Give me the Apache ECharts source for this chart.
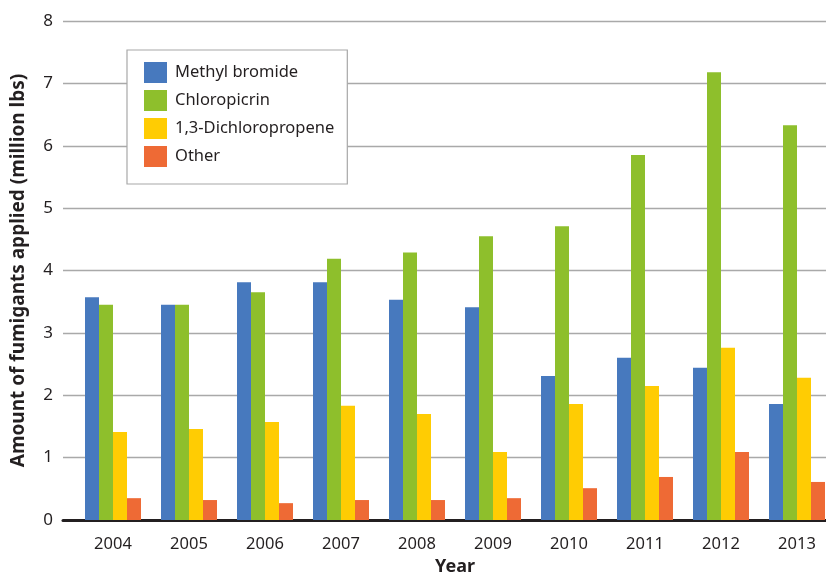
<!DOCTYPE html>
<html>
<head>
<meta charset="utf-8">
<script src="https://cdn.jsdelivr.net/npm/echarts@6/dist/echarts.min.js"></script>
<style>
  html, body { margin: 0; padding: 0; background: #fff; }
  #chart { width: 826px; height: 577px; }
</style>
</head>
<body>
<div id="chart"></div>
<script>
const years = ['2004', '2005', '2006', '2007', '2008', '2009', '2010', '2011', '2012', '2013'];
const methylBromide = [3.57, 3.45, 3.81, 3.81, 3.53, 3.41, 2.31, 2.60, 2.44, 1.86];
const chloropicrin = [3.45, 3.45, 3.65, 4.19, 4.29, 4.55, 4.71, 5.85, 7.18, 6.33];
const dichloropropene = [1.41, 1.46, 1.57, 1.83, 1.70, 1.09, 1.86, 2.15, 2.76, 2.28];
const other = [0.35, 0.32, 0.27, 0.32, 0.32, 0.35, 0.51, 0.69, 1.09, 0.61];

const font = '"Noto Sans", "Open Sans", sans-serif';
const chart = echarts.init(document.getElementById('chart'));

function bar(name, data, color) {
  return {
    name, type: 'bar', data, xAxisIndex: 1, yAxisIndex: 1,
    barWidth: 14, barGap: '0%',
    itemStyle: { color },
    emphasis: { disabled: true }
  };
}

chart.setOption({
  animation: false,
  textStyle: { fontFamily: font },
  grid: [
    // background grid: gridlines + baseline, spans the full width
    { left: 63, right: 0, top: 21, bottom: 57, outerBoundsMode: 'none' },
    // bars
    { left: 75, width: 760, top: 21, bottom: 57, outerBoundsMode: 'none' }
  ],
  xAxis: [
    {
      gridIndex: 0, type: 'value', min: 0, max: 1,
      axisLine: { show: true, lineStyle: { color: '#231f20', width: 3 } },
      axisTick: { show: false }, axisLabel: { show: false }, splitLine: { show: false }
    },
    {
      gridIndex: 1, type: 'category', data: years,
      axisLine: { show: false }, axisTick: { show: false },
      axisLabel: { color: '#231f20', fontSize: 16.5, margin: 16, fontFamily: font },
      name: 'Year', nameLocation: 'middle', nameGap: 36,
      nameTextStyle: { color: '#231f20', fontSize: 18, fontWeight: 'bold', fontFamily: font }
    }
  ],
  yAxis: [
    {
      gridIndex: 0, type: 'value', min: 0, max: 8, interval: 1,
      axisLine: { show: false }, axisTick: { show: false },
      axisLabel: { color: '#231f20', fontSize: 17, margin: 10, fontFamily: font },
      splitLine: { lineStyle: { color: '#a9a9a9', width: 1.3 } },
      name: 'Amount of fumigants applied (million lbs)',
      nameLocation: 'middle', nameGap: 35,
      nameTextStyle: { color: '#231f20', fontSize: 19, fontWeight: 'bold', fontFamily: font }
    },
    {
      gridIndex: 1, type: 'value', min: 0, max: 8, interval: 1, show: false,
      splitLine: { show: false }
    }
  ],
  legend: {
    left: 127, top: 50, orient: 'vertical',
    backgroundColor: '#fff', borderColor: '#a8a8a8', borderWidth: 1.2,
    padding: [12, 13, 17, 17],
    itemWidth: 23, itemHeight: 21, itemGap: 7,
    icon: 'rect',
    textStyle: { color: '#231f20', fontSize: 16.5, fontFamily: font, padding: [0, 0, 0, 3] },
    selectedMode: false
  },
  series: [
    bar('Methyl bromide', methylBromide, '#4779be'),
    bar('Chloropicrin', chloropicrin, '#8ebf2c'),
    bar('1,3-Dichloropropene', dichloropropene, '#ffcc03'),
    bar('Other', other, '#ee6a35')
  ]
});
</script>
</body>
</html>
